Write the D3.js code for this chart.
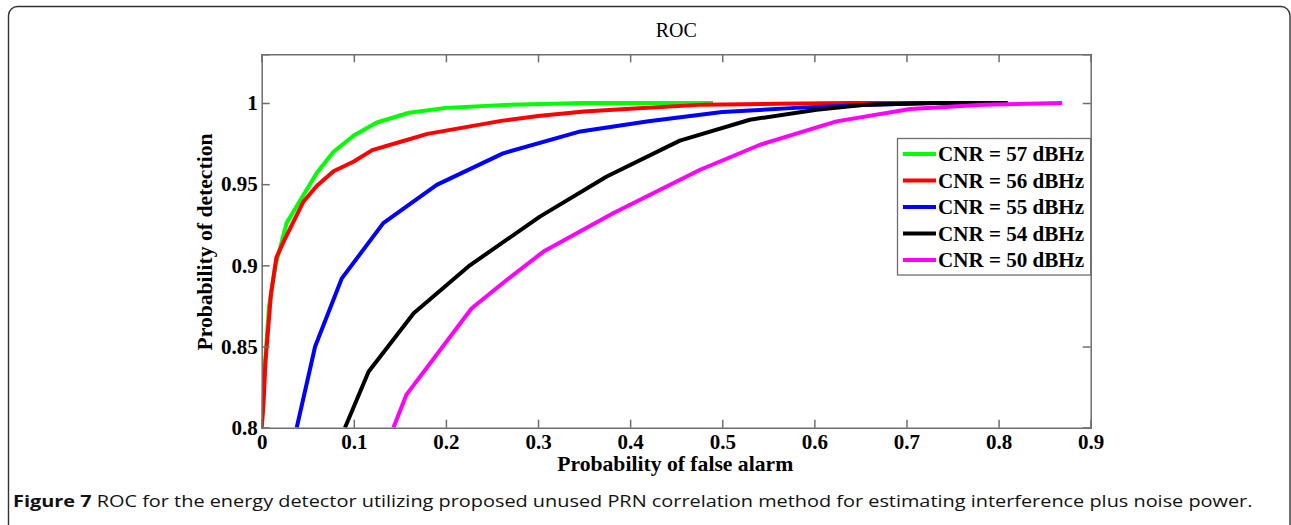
<!DOCTYPE html>
<html><head><meta charset="utf-8">
<script src="https://cdn.jsdelivr.net/npm/d3@7"></script>
<style>html,body{margin:0;padding:0;background:#fff;overflow:hidden}</style>
</head><body>
<svg id="chart" width="1291" height="525"></svg>
<script>
// ---- data ----
const seriesNames = ["CNR = 57 dBHz","CNR = 56 dBHz","CNR = 55 dBHz","CNR = 54 dBHz","CNR = 50 dBHz"];
const seriesColors = ["#00ff00","#ff0000","#0000ff","#000000","#ff00ff"];
const pfa57 = [0, 0.003, 0.008, 0.015, 0.027, 0.045, 0.06, 0.078, 0.1, 0.125, 0.16, 0.2, 0.27, 0.35, 0.42, 0.49];
const pd57  = [0.80, 0.835, 0.875, 0.9, 0.926, 0.943, 0.957, 0.970, 0.980, 0.988, 0.994, 0.997, 0.999, 1.0, 1.0, 1.0];
const pfa56 = [0, 0.002, 0.004, 0.01, 0.016, 0.025, 0.045, 0.06, 0.078, 0.1, 0.12, 0.15, 0.18, 0.22, 0.26, 0.3, 0.35, 0.4, 0.48, 0.56, 0.64, 0.72];
const pd56  = [0.8, 0.815, 0.84, 0.882, 0.905, 0.916, 0.939, 0.949, 0.958, 0.964, 0.971, 0.976, 0.981, 0.985, 0.989, 0.992, 0.9948, 0.9965, 0.999, 0.9995, 1.0, 1.0];
const pfa55 = [0.038, 0.058, 0.087, 0.132, 0.19, 0.262, 0.346, 0.42, 0.5, 0.58, 0.66, 0.73, 0.79];
const pd55  = [0.8, 0.85, 0.892, 0.926, 0.9496, 0.969, 0.9825, 0.9887, 0.9945, 0.997, 0.999, 1.0, 1.0];
const pfa54 = [0.0904, 0.116, 0.165, 0.226, 0.302, 0.3746, 0.454, 0.53, 0.6025, 0.657, 0.73, 0.81];
const pd54  = [0.8, 0.8345, 0.8705, 0.9, 0.930, 0.9547, 0.9768, 0.9897, 0.9959, 0.999, 1.0, 1.0];
const pfa50 = [0.143, 0.157, 0.228, 0.266, 0.306, 0.382, 0.4217, 0.476, 0.541, 0.624, 0.704, 0.783, 0.869];
const pd50  = [0.8, 0.8202, 0.8736, 0.891, 0.9085, 0.9322, 0.9435, 0.9589, 0.9743, 0.9887, 0.9963, 0.9989, 1.0];
const xTicks = [0, 0.1, 0.2, 0.3, 0.4, 0.5, 0.6, 0.7, 0.8, 0.9];
const yTicks = [0.8, 0.85, 0.9, 0.95, 1];
const xTickLabels = ["0","0.1","0.2","0.3","0.4","0.5","0.6","0.7","0.8","0.9"];
const yTickLabels = ["0.8","0.85","0.9","0.95","1"];
const titleText = "ROC";
const xLabel = "Probability of false alarm";
const yLabel = "Probability of detection";
const captionBold = "Figure 7";
const captionRest = " ROC for the energy detector utilizing proposed unused PRN correlation method for estimating interference plus noise power.";

const xs = [pfa57, pfa56, pfa55, pfa54, pfa50];
const ys = [pd57, pd56, pd55, pd54, pd50];
const series = seriesNames.map((n,i)=>({name:n, color:seriesColors[i], pts: xs[i].map((x,j)=>[x, ys[i][j]])}));

const svg = d3.select("#chart");
const L = 261.7, R = 1090.7, T = 54.3, B = 427.7;
const x = d3.scaleLinear().domain([0, 0.9]).range([L, R]);
const y = d3.scaleLinear().domain([0.8, 1.03]).range([B, T]);
const serif = "'Liberation Serif','Times New Roman',serif";
const axisColor = "#6e6e6e";

// outer frame
svg.append("rect").attr("x", 8.5).attr("y", 6.5).attr("width", 1281.5).attr("height", 560)
  .attr("rx", 9).attr("fill", "none").attr("stroke", "#333").attr("stroke-width", 1.4);

// clip
svg.append("defs").append("clipPath").attr("id","clip").append("rect")
  .attr("x", L).attr("y", T).attr("width", R-L).attr("height", B-T);

// curves
const line = d3.line().x(d=>x(d[0])).y(d=>y(d[1]));
svg.append("g").attr("clip-path","url(#clip)").selectAll("path").data(series).join("path")
  .attr("d", d=>line(d.pts)).attr("fill","none").attr("stroke", d=>d.color)
  .attr("stroke-width", 4).attr("stroke-linejoin","round");

// axes
const tl = 8;
const fmtX = (d,i)=>xTickLabels[i];
const fmtY = (d,i)=>yTickLabels[i];
const gx = svg.append("g").attr("transform", `translate(0,${B})`)
  .call(d3.axisBottom(x).tickValues(xTicks).tickFormat(fmtX).tickSize(-tl).tickPadding(9));
const gxt = svg.append("g").attr("transform", `translate(0,${T})`)
  .call(d3.axisTop(x).tickValues(xTicks).tickFormat("").tickSize(-tl));
const gy = svg.append("g").attr("transform", `translate(${L},0)`)
  .call(d3.axisLeft(y).tickValues(yTicks).tickFormat(fmtY).tickSize(-tl).tickPadding(4));
const gyr = svg.append("g").attr("transform", `translate(${R},0)`)
  .call(d3.axisRight(y).tickValues(yTicks).tickFormat("").tickSize(-tl));
[gx,gxt,gy,gyr].forEach(g=>{
  g.selectAll(".domain").attr("stroke", axisColor).attr("stroke-width",1.5);
  g.selectAll(".tick line").attr("stroke", axisColor).attr("stroke-width",1.5);
  g.selectAll("text").attr("font-family", serif).attr("font-weight","bold").attr("font-size",21).attr("fill","#000");
});
gx.selectAll(".tick text").attr("dy","0.6em");

// title and axis labels
svg.append("text").attr("x", (L+R)/2).attr("y", 37).attr("text-anchor","middle")
  .attr("font-family", serif).attr("font-size", 20).text(titleText);
svg.append("text").attr("x", (L+R)/2 - 1).attr("y", 471).attr("text-anchor","middle")
  .attr("font-family", serif).attr("font-weight","bold").attr("font-size", 21.5)
  .attr("textLength", 236).attr("lengthAdjust","spacingAndGlyphs").text(xLabel);
svg.append("text").attr("transform", `translate(212,${(T+B)/2+1}) rotate(-90)`).attr("text-anchor","middle")
  .attr("font-family", serif).attr("font-weight","bold").attr("font-size", 21.5)
  .attr("textLength", 217).attr("lengthAdjust","spacingAndGlyphs").text(yLabel);

// legend
const lg = svg.append("g");
lg.append("rect").attr("x", 897.5).attr("y", 138.5).attr("width", R-897.5).attr("height", 136.5)
  .attr("fill","#fff").attr("stroke", axisColor).attr("stroke-width",1.3);
const rowY = d3.scalePoint().domain(seriesNames).range([154, 260]);
const rows = lg.selectAll("g.row").data(series).join("g").attr("class","row")
  .attr("transform", d=>`translate(0,${rowY(d.name)})`);
rows.append("line").attr("x1", 903).attr("x2", 936).attr("stroke", d=>d.color).attr("stroke-width",4);
rows.append("text").attr("x", 938).attr("dy","0.35em").attr("font-family", serif).attr("font-weight","bold")
  .attr("font-size", 21).attr("textLength", 146).attr("lengthAdjust","spacingAndGlyphs").text(d=>d.name);

// caption
const cap = svg.append("text").attr("x", 13).attr("y", 507.5)
  .attr("font-family","'Open Sans','Noto Sans',sans-serif").attr("font-size", 16.5).attr("fill","#111");
cap.append("tspan").attr("font-weight","bold").text(captionBold);
cap.append("tspan").text(captionRest);
const w = cap.node().getComputedTextLength();
const target = 1253 - 13;
cap.attr("transform", `translate(13,0) scale(${target/w},1) translate(-13,0)`);
</script>
</body></html>
